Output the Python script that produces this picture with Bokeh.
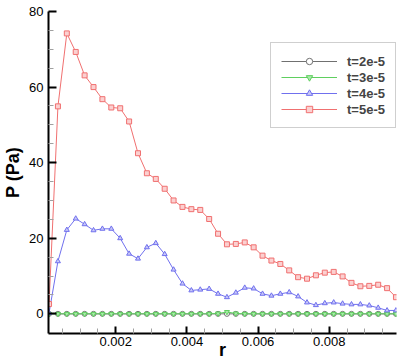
from bokeh.plotting import figure
from bokeh.models import FixedTicker, Legend, LegendItem, Range1d
from bokeh.embed import file_html
from bokeh.resources import INLINE

r = [0.000125, 0.000375, 0.000625, 0.000875, 0.001125, 0.001375, 0.001625, 0.001875,
     0.002125, 0.002375, 0.002625, 0.002875, 0.003125, 0.003375, 0.003625, 0.003875,
     0.004125, 0.004375, 0.004625, 0.004875, 0.005125, 0.005375, 0.005625, 0.005875,
     0.006125, 0.006375, 0.006625, 0.006875, 0.007125, 0.007375, 0.007625, 0.007875,
     0.008125, 0.008375, 0.008625, 0.008875, 0.009125, 0.009375, 0.009625, 0.009875]

p_t2 = [0.0] * 40
p_t3 = [0, 0, 0, 0, 0, 0, 0, 0, 0, 0, 0, 0, 0, 0, 0, 0, 0, 0, 0, 0.1,
        0.5, 0.1, 0, 0, 0, 0, 0, 0, 0, 0, 0, 0, 0, 0, 0, 0, 0, 0, 0, 0]
p_t4 = [0.2, 13.9, 22.2, 25.2, 23.7, 22.1, 22.5, 22.5, 20.0, 15.9,
        14.6, 17.6, 18.7, 15.8, 11.7, 8.0, 6.2, 6.4, 6.6, 5.3,
        4.4, 5.6, 6.9, 6.7, 5.3, 4.8, 5.3, 5.7, 4.6, 3.0,
        2.3, 2.8, 3.0, 2.7, 2.5, 2.5, 2.2, 1.6, 0.9, 0.9]
p_t5 = [2.6, 54.9, 74.2, 69.3, 63.1, 60.0, 56.8, 54.6, 54.4, 50.9,
        42.5, 37.2, 35.7, 33.1, 30.0, 28.3, 27.7, 27.5, 25.1, 21.2,
        18.4, 18.5, 18.9, 17.6, 15.4, 14.1, 13.2, 11.5, 9.7, 9.3,
        10.2, 10.9, 11.1, 9.9, 8.2, 7.3, 7.4, 7.7, 6.8, 4.4]

series_names = ["t=2e-5", "t=3e-5", "t=4e-5", "t=5e-5"]
x_ticks = [0.002, 0.004, 0.006, 0.008]
y_ticks = [0, 20, 40, 60, 80]

FONT = "Liberation Sans"

p = figure(width=402, height=363, output_backend="svg", toolbar_location=None,
           x_range=Range1d(0.00011, 0.00989), y_range=Range1d(-5.2, 80),
           min_border_left=44, min_border_right=6, min_border_top=11,
           min_border_bottom=30)
p.xgrid.visible = False
p.ygrid.visible = False
p.outline_line_color = None
p.background_fill_color = "white"

x_minor = [i * 0.0005 for i in range(1, 20) if i % 4 != 0]
y_minor = [v for v in range(5, 80, 5) if v % 20 != 0]
p.xaxis.ticker = FixedTicker(ticks=x_ticks, minor_ticks=x_minor)
p.yaxis.ticker = FixedTicker(ticks=y_ticks, minor_ticks=y_minor)
p.xaxis.major_label_overrides = {v: f"{v:.3f}" for v in x_ticks}

for ax in (p.xaxis[0], p.yaxis[0]):
    ax.axis_line_width = 2
    ax.axis_line_color = "black"
    ax.major_tick_out = 0
    ax.minor_tick_out = 0
    ax.major_tick_line_width = 2
    ax.major_tick_line_color = "black"
    ax.minor_tick_in = 5
    ax.minor_tick_line_color = "#a0a0a0"
    ax.minor_tick_line_width = 1
    ax.major_label_text_font = FONT
    ax.major_label_text_font_size = "13px"
    ax.major_label_text_color = "black"
    ax.axis_label_text_font = FONT
    ax.axis_label_text_font_style = "bold"
    ax.axis_label_text_font_size = "18px"
    ax.axis_label_text_color = "black"
p.xaxis.major_tick_in = 7
p.yaxis.major_tick_in = 8
p.xaxis.major_label_standoff = 3
p.yaxis.major_label_standoff = 5
p.xaxis.axis_label = "r"
p.yaxis.axis_label = "P (Pa)"
p.xaxis.axis_label_standoff = -9
p.yaxis.axis_label_standoff = 3

styles = [
    dict(color="#707070", marker="circle", fill="white"),
    dict(color="#5fcf5f", marker="inverted_triangle", fill="#a8eaa8"),
    dict(color="#7070ee", marker="triangle", fill="#c8c8f8"),
    dict(color="#f07070", marker="square", fill="#fbd0d0"),
]
data = [p_t2, p_t3, p_t4, p_t5]
items = []
for name, ys, st in zip(series_names, data, styles):
    ln = p.line(r, ys, line_color=st["color"], line_width=1)
    sc = p.scatter(r, ys, marker=st["marker"], size=5, line_color=st["color"],
                   fill_color=st["fill"], line_width=1)
    items.append(LegendItem(label=name, renderers=[ln, sc]))

legend = Legend(items=items, location=(222, 205), glyph_width=56, glyph_height=16,
                label_height=16, label_standoff=10, spacing=0, padding=10,
                border_line_color="#a0a0a0", border_line_width=1,
                label_text_font=FONT, label_text_font_style="bold",
                label_text_font_size="13px", background_fill_color="white",
                margin=0)
p.add_layout(legend, "center")

open("out.html", "w").write(file_html(p, INLINE))
